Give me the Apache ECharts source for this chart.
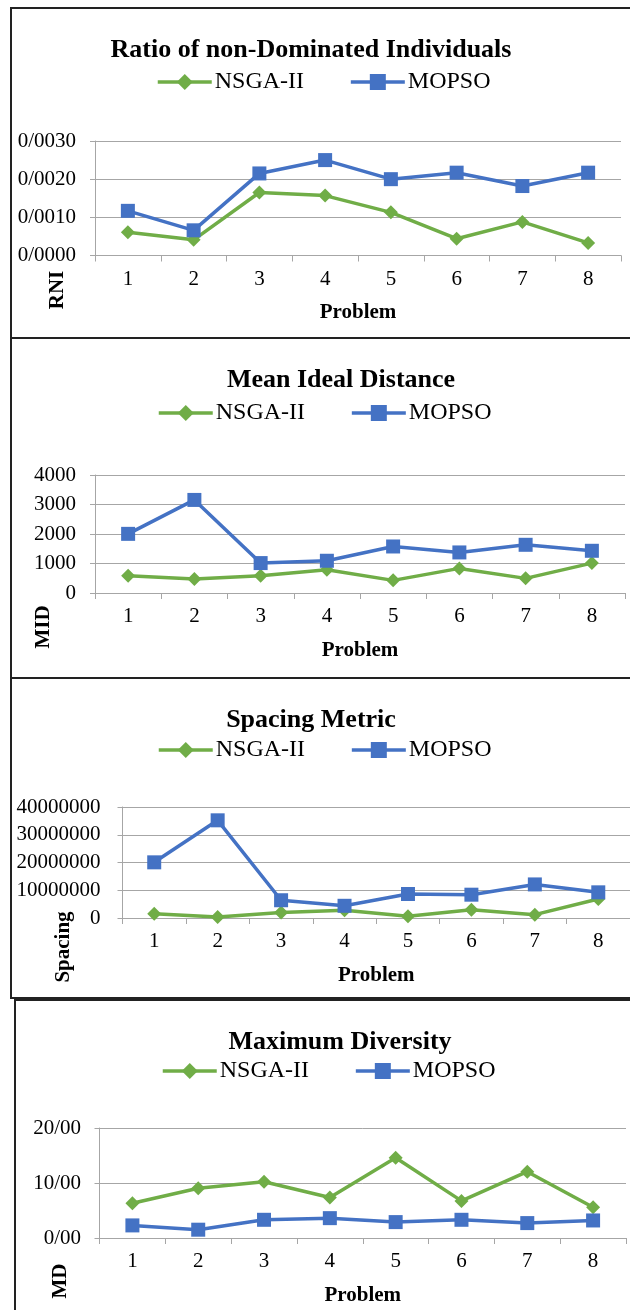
<!DOCTYPE html>
<html>
<head>
<meta charset="utf-8">
<script src="https://cdn.jsdelivr.net/npm/echarts@6/dist/echarts.min.js"></script>
<style>
html,body{margin:0;padding:0;background:#fff;}
#chart{width:630px;height:1310px;}
</style>
</head>
<body>
<div id="chart"></div>
<script>
const problems = ['1', '2', '3', '4', '5', '6', '7', '8'];
const seriesNames = ['NSGA-II', 'MOPSO'];

const rniNSGA = [0.00061, 0.00041, 0.00165, 0.00157, 0.00113, 0.00044, 0.00088, 0.00033];
const rniMOPSO = [0.00117, 0.00066, 0.00215, 0.00250, 0.00200, 0.00217, 0.00182, 0.00217];

const midNSGA = [586, 473, 586, 789, 428, 834, 496, 1014];
const midMOPSO = [2005, 3155, 1014, 1093, 1577, 1375, 1634, 1431];

const spNSGA = [1560000, 360000, 2000000, 2800000, 600000, 3000000, 1200000, 6850000];
const spMOPSO = [20060000, 35200000, 6400000, 4400000, 8650000, 8400000, 12100000, 9250000];

const mdNSGA = [6.33, 9.04, 10.24, 7.35, 14.58, 6.75, 12.05, 5.60];
const mdMOPSO = [2.29, 1.51, 3.31, 3.61, 2.89, 3.31, 2.71, 3.19];

const titles = ['Ratio of non-Dominated Individuals', 'Mean Ideal Distance', 'Spacing Metric', 'Maximum Diversity'];
const yNames = ['RNI', 'MID', 'Spacing', 'MD'];
const xName = 'Problem';

const GREEN = '#70AD47';
const BLUE = '#4472C4';
const GRID = '#A6A6A6';
const FONT = '"Liberation Serif", "Times New Roman", serif';

const panels = [
  { nsga: rniNSGA, mopso: rniMOPSO, min: 0, max: 0.003, interval: 0.001,
    fmt: v => v.toFixed(4).replace('.', '/'),
    grid: { left: 95, top: 141, width: 526, height: 114.5 },
    titleX: 311, titleY: 50, legendX: 156, legendY: 70,
    yName: { x: 58, y: 290 }, labelMargin: 19 },
  { nsga: midNSGA, mopso: midMOPSO, min: 0, max: 4000, interval: 1000,
    fmt: v => String(v),
    grid: { left: 95, top: 475, width: 530, height: 118 },
    titleX: 341, titleY: 380, legendX: 157, legendY: 401,
    yName: { x: 44, y: 627 }, labelMargin: 19 },
  { nsga: spNSGA, mopso: spMOPSO, min: 0, max: 40000000, interval: 10000000,
    fmt: v => String(v),
    grid: { left: 122.5, top: 807, width: 520, height: 111 },
    titleX: 311, titleY: 720, legendX: 157, legendY: 738,
    yName: { x: 64, y: 947 }, labelMargin: 22 },
  { nsga: mdNSGA, mopso: mdMOPSO, min: 0, max: 20, interval: 10,
    fmt: v => v.toFixed(2).replace('.', '/'),
    grid: { left: 99.5, top: 1128, width: 526.5, height: 110 },
    titleX: 340, titleY: 1042, legendX: 161, legendY: 1059,
    yName: { x: 61, y: 1281 }, labelMargin: 18.5 }
];

const option = {
  animation: false,
  backgroundColor: '#ffffff',
  title: [], legend: [], grid: [], xAxis: [], yAxis: [], series: [],
  graphic: []
};

// panel borders
const borders = [
  { x: 11, y: 8, w: 640, h: 330 },
  { x: 11, y: 338, w: 640, h: 340 },
  { x: 11, y: 678, w: 640, h: 320 },
  { x: 15, y: 1000, w: 640, h: 330 }
];
borders.forEach(b => {
  option.graphic.push({
    type: 'rect', silent: true, z: 0,
    shape: { x: b.x, y: b.y, width: b.w, height: b.h },
    style: { fill: 'none', stroke: '#222', lineWidth: 2 }
  });
});

panels.forEach((p, i) => {
  option.title.push({
    text: titles[i], left: p.titleX, top: p.titleY,
    textAlign: 'center', textVerticalAlign: 'middle', padding: 0,
    textStyle: { fontFamily: FONT, fontSize: 26, fontWeight: 'bold', color: '#000' }
  });
  option.legend.push({
    data: seriesNames, left: p.legendX, top: p.legendY,
    itemWidth: 54, itemHeight: 20, itemGap: 45, padding: 0,
    lineStyle: { width: 3.5 },
    textStyle: { fontFamily: FONT, fontSize: 24, color: '#000', padding: [0, 0, 0, -2] }
  });
  option.grid.push(Object.assign({ containLabel: false }, p.grid));
  option.xAxis.push({
    type: 'category', gridIndex: i, data: problems, boundaryGap: true,
    name: xName, nameLocation: 'middle', nameGap: 47,
    nameTextStyle: { fontFamily: FONT, fontSize: 21, fontWeight: 'bold', color: '#000' },
    axisLine: { show: true, lineStyle: { color: GRID, width: 1 } },
    axisTick: { show: true, inside: false, length: 6, alignWithLabel: false, lineStyle: { color: GRID } },
    axisLabel: { fontFamily: FONT, fontSize: 21, color: '#000', margin: 13 },
    splitLine: { show: false }
  });
  option.yAxis.push({
    type: 'value', gridIndex: i, min: p.min, max: p.max, interval: p.interval,
    axisLine: { show: true, lineStyle: { color: GRID, width: 1 } },
    axisTick: { show: true, inside: false, length: 5, lineStyle: { color: GRID } },
    axisLabel: { fontFamily: FONT, fontSize: 21, color: '#000', margin: p.labelMargin, formatter: p.fmt },
    splitLine: { show: true, lineStyle: { color: GRID, width: 1 } }
  });
  option.series.push({
    name: seriesNames[0], type: 'line', xAxisIndex: i, yAxisIndex: i,
    data: p.nsga, symbol: 'diamond', symbolSize: 14,
    lineStyle: { color: GREEN, width: 3.5 }, itemStyle: { color: GREEN },
    emphasis: { disabled: true }, z: 3
  });
  option.series.push({
    name: seriesNames[1], type: 'line', xAxisIndex: i, yAxisIndex: i,
    data: p.mopso, symbol: 'rect', symbolSize: 14,
    lineStyle: { color: BLUE, width: 3.5 }, itemStyle: { color: BLUE },
    emphasis: { disabled: true }, z: 4
  });
  option.graphic.push({
    type: 'text', silent: true, z: 10,
    x: p.yName.x, y: p.yName.y, rotation: Math.PI / 2,
    style: {
      text: yNames[i], fill: '#000', align: 'center', verticalAlign: 'middle',
      font: 'bold 21px ' + FONT
    }
  });
});

const chart = echarts.init(document.getElementById('chart'), null, { renderer: 'canvas' });
chart.setOption(option);
</script>
</body>
</html>
